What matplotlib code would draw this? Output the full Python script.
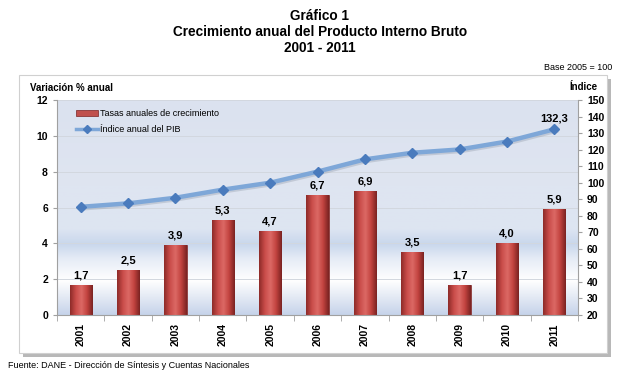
import numpy as np
import matplotlib.pyplot as plt
from matplotlib.patches import Rectangle
from matplotlib.lines import Line2D
from matplotlib.colors import LinearSegmentedColormap

plt.rcParams['font.family'] = ['Liberation Sans', 'DejaVu Sans']

# Data
years = ["2001", "2002", "2003", "2004", "2005", "2006", "2007", "2008", "2009", "2010", "2011"]
growth = [1.7, 2.5, 3.9, 5.3, 4.7, 6.7, 6.9, 3.5, 1.7, 4.0, 5.9]
index_pib = [85.4, 87.5, 90.9, 95.8, 100.0, 106.7, 114.1, 118.1, 120.1, 124.9, 132.3]

fig = plt.figure(figsize=(6.4, 3.82), dpi=100)

# Chart frame with shadow
fig.patches.append(Rectangle((23 / 640, 1 - 357 / 382), 588 / 640, 278 / 382,
                             transform=fig.transFigure, facecolor="#b8b8b8",
                             edgecolor="none", zorder=-2))
fig.patches.append(Rectangle((19 / 640, 1 - 353 / 382), 588 / 640, 278 / 382,
                             transform=fig.transFigure, facecolor="white",
                             edgecolor="#d0d0d0", lw=0.8, zorder=-1))

ax = fig.add_axes([57 / 640, 1 - 315 / 382, 521 / 640, 215 / 382])
ax.patch.set_visible(False)
x = np.arange(len(years))

# Plot area background gradient
bg = LinearSegmentedColormap.from_list("bg", [
    (0.0, "#c6d3ea"), (0.08, "#e3e9f4"), (0.16, "#ffffff"), (0.26, "#e6ecf6"),
    (0.33, "#c9d7ec"), (0.40, "#dde5f2"), (0.6, "#dfe5f1"), (1.0, "#dbe2ef")])
grad = np.linspace(0, 1, 256).reshape(-1, 1)
ax.imshow(grad, aspect="auto", cmap=bg, origin="lower",
          extent=[-0.5, len(years) - 0.5, 0, 12], zorder=0)

for v in range(2, 13, 2):
    ax.axhline(v, color="#d2d7df", lw=0.7, zorder=1)

# Bars with a horizontal shading
bar_cmap = LinearSegmentedColormap.from_list("bar", ["#8e2b29", "#c94c49", "#dc6965", "#c2433f", "#7a2322"])
bars = ax.bar(x, growth, width=0.47, color="#c0504d", edgecolor="#7a2322", lw=0.5, zorder=2)
hgrad = np.linspace(0, 1, 64).reshape(1, -1)
for b in bars:
    im = ax.imshow(hgrad, aspect="auto", cmap=bar_cmap,
                   extent=[b.get_x(), b.get_x() + b.get_width(), 0, b.get_height()], zorder=2.5)
    im.set_clip_path(b)
for xi, g in zip(x, growth):
    ax.text(xi, g + 0.25, f"{g:.1f}".replace(".", ","), ha="center", va="bottom",
            fontsize=8, fontweight="bold", zorder=5)
ax.set_xlim(-0.5, len(years) - 0.5)
ax.set_ylim(0, 12)

ax.set_xticks(x)
ax.set_xticklabels(years, rotation=90, fontsize=7.5, fontweight="bold")
ax.set_xticks(np.arange(-0.5, len(years), 1), minor=True)
ax.tick_params(axis="x", which="major", length=0, pad=6)
ax.tick_params(axis="x", which="minor", length=4, color="#a0a0a0")
ax.set_yticks(range(0, 13, 2))
ax.tick_params(axis="y", labelsize=7.5, length=3, color="#a0a0a0")
for lbl in ax.get_yticklabels():
    lbl.set_fontweight("bold")
for s in ["top", "right"]:
    ax.spines[s].set_visible(False)
ax.spines["left"].set_color("#a0a0a0")
ax.spines["bottom"].set_color("#a0a0a0")

# Index line on secondary axis
ax2 = ax.twinx()
ax2.set_ylim(20, 150)
ax2.set_yticks(range(20, 151, 10))
ax2.tick_params(axis="y", labelsize=7.5, length=3, color="#a0a0a0")
for lbl in ax2.get_yticklabels():
    lbl.set_fontweight("bold")
for s in ["top", "left", "bottom"]:
    ax2.spines[s].set_visible(False)
ax2.spines["right"].set_color("#a0a0a0")
ax2.plot(x + 0.03, np.array(index_pib) - 0.8, color="#8e98a8", lw=3.5, alpha=0.35, zorder=3)
ax2.plot(x, index_pib, color="#7ea7d8", lw=3.2, marker="D", markersize=5,
         markerfacecolor="#4a7bbd", markeredgecolor="#4a7bbd", zorder=4)
ax2.text(x[-1], index_pib[-1] + 3.5, "132,3", ha="center", va="bottom",
         fontsize=8, fontweight="bold")

# Legend
handles = [Rectangle((0, 0), 1, 1, facecolor="#c0504d", edgecolor="#7a2322", lw=0.5),
           Line2D([], [], color="#7ea7d8", lw=2.5, marker="D", markersize=4,
                  markerfacecolor="#4a7bbd", markeredgecolor="#4a7bbd")]
ax2.legend(handles, ["Tasas anuales de crecimiento", "Índice anual del PIB"],
           loc="upper left", bbox_to_anchor=(0.029, 0.975), frameon=False,
           fontsize=6.5, handlelength=2.5, handleheight=0.6, handletextpad=0.15,
           labelspacing=0.75, borderaxespad=0)

# Titles and notes
fig.text(0.5, 1 - 16 / 382, "Gráfico 1", ha="center", va="center", fontsize=9.8, fontweight="bold")
fig.text(0.5, 1 - 32 / 382, "Crecimiento anual del Producto Interno Bruto", ha="center",
         va="center", fontsize=9.8, fontweight="bold")
fig.text(0.5, 1 - 48 / 382, "2001 - 2011", ha="center", va="center", fontsize=9.8, fontweight="bold")
fig.text(612 / 640, 1 - 67 / 382, "Base 2005 = 100", ha="right", va="center", fontsize=6.5)
fig.text(30 / 640, 1 - 88 / 382, "Variación % anual", ha="left", va="center", fontsize=7, fontweight="bold")
fig.text(598 / 640, 1 - 87 / 382, "Índice", ha="right", va="center", fontsize=7, fontweight="bold")
fig.text(8 / 640, 1 - 366 / 382, "Fuente: DANE - Dirección de Síntesis y Cuentas Nacionales",
         ha="left", va="center", fontsize=6.5)

fig.savefig("out.png", dpi=100)
